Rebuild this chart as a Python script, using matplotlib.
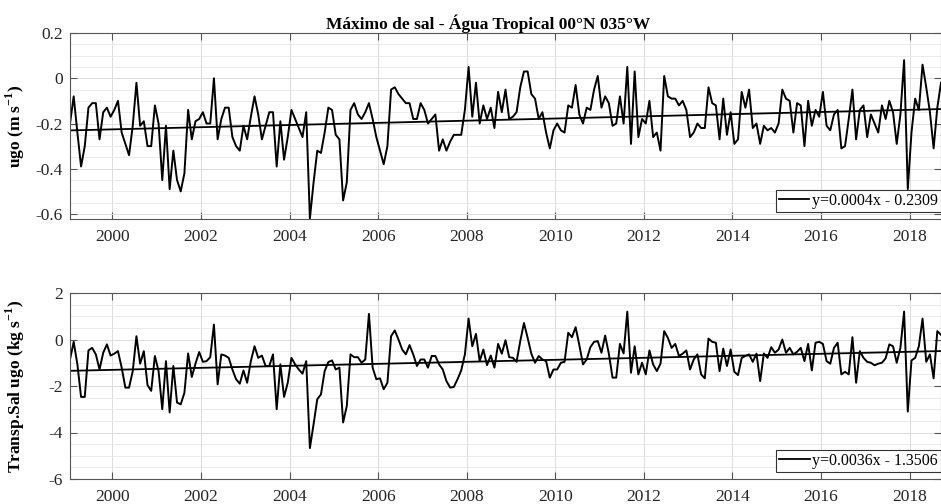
import matplotlib
matplotlib.use("Agg")
import matplotlib.pyplot as plt
from matplotlib.ticker import MultipleLocator, FuncFormatter
import numpy as np

plt.rcParams["font.family"] = ["Liberation Serif", "DejaVu Serif"]
plt.rcParams["mathtext.fontset"] = "custom"
plt.rcParams["mathtext.bf"] = "Liberation Serif:bold"
plt.rcParams["mathtext.rm"] = "Liberation Serif:bold"
plt.rcParams["axes.unicode_minus"] = False

# monthly series, Jan 1999 onwards
ugo = [
    -0.20, -0.08, -0.24, -0.39, -0.30, -0.13, -0.11, -0.11, -0.27, -0.15, -0.13, -0.17,
    -0.14, -0.10, -0.24, -0.29, -0.34, -0.21, -0.02, -0.21, -0.19, -0.30, -0.30, -0.12,
    -0.20, -0.45, -0.21, -0.49, -0.32, -0.45, -0.50, -0.42, -0.14, -0.27, -0.19, -0.18,
    -0.15, -0.20, -0.20, 0.00, -0.27, -0.18, -0.13, -0.13, -0.26, -0.30, -0.32, -0.21,
    -0.27, -0.17, -0.08, -0.16, -0.27, -0.21, -0.15, -0.15, -0.39,
    -0.19, -0.36, -0.26, -0.14, -0.18, -0.22, -0.26, -0.15, -0.62, -0.46, -0.32, -0.33,
    -0.24, -0.13, -0.14, -0.25, -0.27, -0.54, -0.46, -0.14, -0.11, -0.16, -0.18, -0.15,
    -0.11, -0.18, -0.26, -0.32, -0.38, -0.30, -0.05, -0.04, -0.07, -0.09, -0.11, -0.11,
    -0.18, -0.18, -0.11, -0.14, -0.20, -0.18, -0.16, -0.32, -0.27, -0.32, -0.28, -0.25,
    -0.25, -0.25, -0.14, 0.05, -0.17, -0.02, -0.20, -0.12, -0.18,
    -0.13, -0.22, -0.06, -0.15, -0.05, -0.18, -0.17, -0.15, -0.04, 0.03, 0.03, -0.07,
    -0.09, -0.18, -0.15, -0.24, -0.31, -0.23, -0.20, -0.23, -0.24, -0.12, -0.13, -0.03,
    -0.16, -0.20, -0.13, -0.14, -0.05, 0.01, -0.13, -0.08, -0.11, -0.21, -0.20, -0.08,
    -0.20, 0.05, -0.29, 0.03, -0.26, -0.18, -0.20, -0.10, -0.26, -0.24, -0.32, 0.01,
    -0.08, -0.09, -0.09, -0.12, -0.10, -0.14, -0.26, -0.24, -0.20, -0.22, -0.22, -0.04,
    -0.11, -0.12, -0.27, -0.09, -0.25, -0.15, -0.29, -0.27, -0.06, -0.13, -0.05, -0.22,
    -0.20, -0.29, -0.21, -0.23, -0.22, -0.24, -0.20, -0.05, -0.09, -0.10, -0.24, -0.11,
    -0.12, -0.30, -0.10, -0.21, -0.14, -0.17, -0.06, -0.21, -0.23, -0.16, -0.14, -0.31,
    -0.30, -0.18, -0.05, -0.27, -0.14, -0.12, -0.26, -0.16, -0.20, -0.24, -0.12, -0.18,
    -0.10, -0.15, -0.29, -0.16, 0.08, -0.49, -0.24, -0.09, -0.14, 0.06, -0.04, -0.15,
    -0.31, -0.13, -0.02,
]

transp = [
    -0.86, -0.10, -1.07, -2.47, -2.47, -0.47, -0.36, -0.64, -1.29, -0.57, -0.21, -0.69,
    -0.61, -0.50, -1.21, -2.07, -2.07, -1.36, 0.14, -1.04, -0.50, -1.96, -2.21, -0.71,
    -1.36, -3.00, -0.93, -3.14, -1.14, -2.71, -2.79, -2.29, -0.60, -1.61, -1.04, -0.54,
    -0.96, -0.93, -0.76, 0.64, -1.93, -0.64, -0.69, -0.79, -1.29, -1.71, -1.90, -1.33,
    -1.86, -0.93, -0.29, -0.79, -0.69, -1.14, -1.14, -0.64, -3.00,
    -1.07, -2.47, -1.86, -0.79, -1.07, -1.29, -1.47, -0.93, -4.67, -3.64, -2.57, -2.36,
    -1.36, -0.97, -0.90, -1.29, -1.21, -3.57, -2.86, -0.64, -0.76, -0.76, -1.00, -0.86,
    1.10, -1.21, -1.71, -1.67, -2.14, -1.86, 0.14, 0.39, 0.00, -0.43, -0.64, -0.24,
    -0.64, -1.14, -0.86, -0.86, -1.21, -0.71, -0.71, -1.07, -1.29, -1.79, -2.07, -2.04,
    -1.71, -1.33, -0.64, 0.90, -0.29, 0.24, -0.93, -0.43, -1.10,
    -0.69, -1.21, -0.19, -0.61, -0.03, -0.76, -0.79, -0.96, -0.07, 0.71, 0.07, -0.61,
    -1.00, -0.71, -0.86, -0.93, -1.64, -1.29, -1.29, -1.00, -0.96, 0.29, 0.10, 0.53,
    -0.24, -1.07, -0.86, -0.33, -0.10, -0.07, -0.57, 0.17, -0.61, -1.64, -1.64, -0.19,
    -0.60, 1.20, -1.43, -0.29, -1.50, -1.00, -1.50, -0.47, -1.07, -1.36, -1.04, 0.36,
    0.07, -0.36, -0.19, -0.71, -0.61, -0.47, -1.29, -0.86, -0.64, -1.50, -1.67, 0.04,
    -0.10, -0.14, -1.36, -0.39, -1.14, -0.43, -1.39, -1.53, -0.79, -0.71, -0.64, -0.96,
    -0.61, -1.79, -0.60, -0.79, -0.33, -0.57, -0.43, 0.00, -0.57, -0.36, -0.64, -0.53,
    -0.36, -0.93, -0.19, -1.33, -0.14, -0.10, -0.19, -0.93, -1.04, -0.36, -0.14, -1.50,
    -1.39, -1.50, 0.10, -1.86, -0.50, -0.79, -0.96, -1.00, -1.11, -1.04, -1.00, -0.81,
    -0.21, -0.29, -1.00, -0.36, 1.20, -3.10, -0.90, -0.79, -0.29, 0.90, -0.96, -0.64,
    -1.67, 0.36, 0.20,
]

# linear fits (y = a*x + b, x = month index)
fit_ugo = [0.0004, -0.2309]
fit_transp = [0.0036, -1.3506]

title = "Máximo de sal - Água Tropical 00°N 035°W"
ylabels = [r"ugo (m s$^{-1}$)", r"Transp.Sal ugo (kg s$^{-1}$)"]
year_ticks = list(range(2000, 2019, 2))

W, H = 941, 504
fig = plt.figure(figsize=(W / 100, H / 100), dpi=100)
ax1 = fig.add_axes([70 / W, 1 - 219 / H, (W - 70) / W, 186 / H])
ax2 = fig.add_axes([70 / W, 1 - 479 / H, (W - 70) / W, 186 / H])

spine_c = "#555555"
panels = [
    (ax1, ugo, fit_ugo, (-0.622, 0.2), [0.2, 0, -0.2, -0.4, -0.6], 0.05),
    (ax2, transp, fit_transp, (-6, 2), [2, 0, -2, -4, -6], 0.5),
]
for ax, vals, fit, ylim, yt, minor in panels:
    n = len(vals)
    t = 1999 + (np.arange(n) + 0.5) / 12
    idx = np.arange(1, n + 1)
    ax.plot(t, vals, color="black", lw=1.4)
    lbl = f"y={fit[0]:.4f}x - {abs(fit[1]):.4f}"
    ax.plot(t, fit[0] * idx + fit[1], color="black", lw=1.3, label=lbl)
    ax.set_xlim(t[0], t[-1])
    ax.set_ylim(*ylim)
    ax.set_xticks(year_ticks)
    ax.set_yticks(yt)
    ax.yaxis.set_major_formatter(FuncFormatter(lambda v, p: f"{v:g}"))
    ax.yaxis.set_minor_locator(MultipleLocator(minor))
    ax.grid(True, which="major", color="#dcdcdc", lw=0.7)
    ax.grid(True, which="minor", axis="y", color="#e8e8e8", lw=0.6)
    ax.set_axisbelow(True)
    ax.tick_params(which="major", direction="in", length=5, width=0.8,
                   color=spine_c, labelsize=12.5, labelcolor="#262626",
                   top=True, right=True)
    ax.tick_params(axis="x", pad=7)
    ax.tick_params(axis="y", pad=5)
    ax.tick_params(which="minor", length=0)
    for s in ax.spines.values():
        s.set_color(spine_c)
        s.set_linewidth(0.8)
    leg = ax.legend(loc="lower right", bbox_to_anchor=(1.0, 7 / 186), borderaxespad=0,
                    fontsize=11.5, frameon=True, fancybox=False, framealpha=1,
                    edgecolor="#333333", handlelength=1.9, handletextpad=0.15,
                    borderpad=0.2)
    leg.get_frame().set_linewidth(0.8)

ax1.set_title(title, fontsize=12.5, fontweight="bold", x=(488 - 70) / (W - 70), pad=3)
ax1.set_ylabel(ylabels[0], fontsize=12.5, fontweight="bold")
ax2.set_ylabel(ylabels[1], fontsize=12.5, fontweight="bold")
ax1.yaxis.set_label_coords(-43 / (W - 70), 0.5)
ax2.yaxis.set_label_coords(-43 / (W - 70), 0.5)

fig.savefig("out.png", dpi=100)
